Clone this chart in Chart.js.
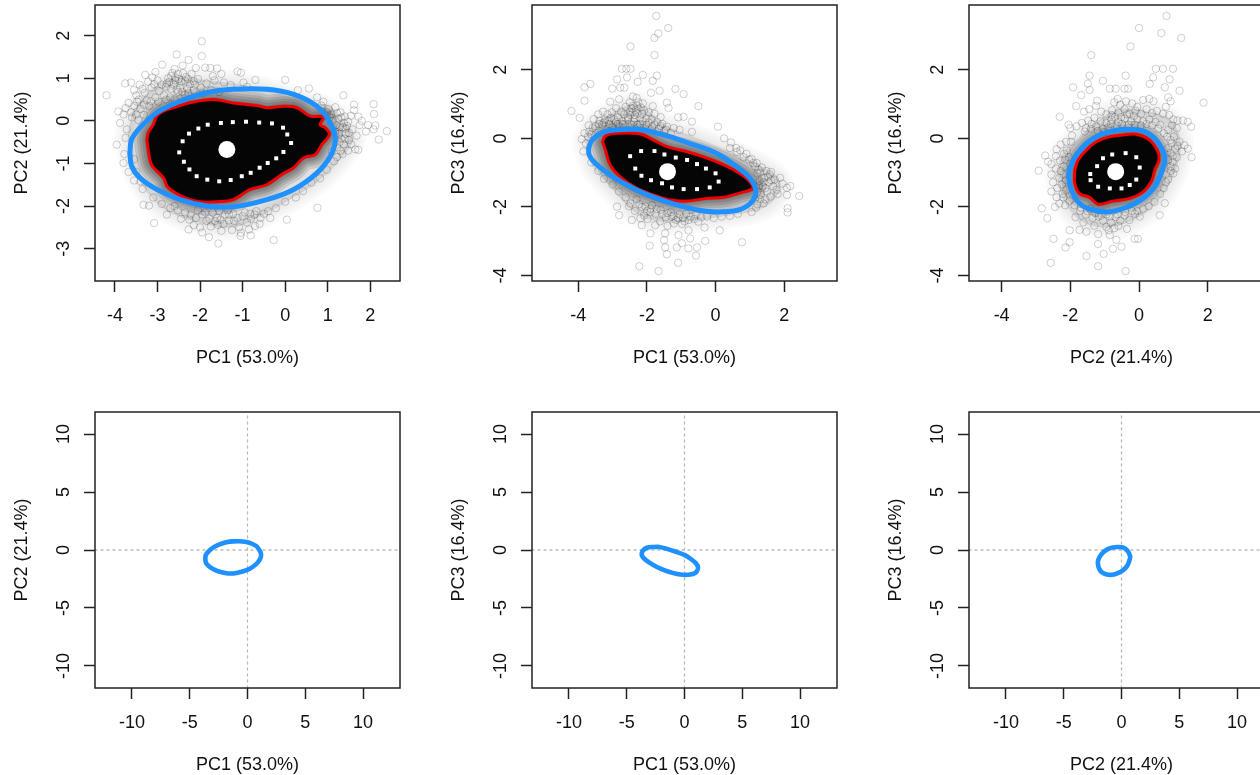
<!DOCTYPE html>
<html><head><meta charset="utf-8">
<script src="https://cdn.jsdelivr.net/npm/chart.js@4/dist/chart.umd.min.js"></script>
<style>html,body{margin:0;padding:0;background:#fff;overflow:hidden;width:1260px;height:775px}
#wrap{position:relative;width:1260px;height:775px;overflow:hidden}
canvas{position:absolute}</style></head><body><div id="wrap"></div>
<script>
// ---- axis labels
const labelPC1="PC1 (53.0%)", labelPC2="PC2 (21.4%)", labelPC3="PC3 (16.4%)";
// ---- tick labels
const ticksP1X=[-4,-3,-2,-1,0,1,2], ticksP1Y=[-3,-2,-1,0,1,2];
const ticksWide=[-4,-2,0,2];
const ticksLoad=[-10,-5,0,5,10];
// ---- axis limits
const limP1X=[-4.47,2.7], limP1Y=[-3.76,2.72], limP2X=[-5.35,3.54], limP2Y=[-4.16,3.89], limP3X=[-4.95,3.93], limLoad=[-13.2,13.2], limLoadY=[-11.9,11.9];
// ---- blue ellipses
const ellipse12=[[-3.65,-0.75],[-3.61,-0.44],[-3.41,-0.16],[-3.02,0.19],[-2.47,0.46],[-1.84,0.66],[-1.22,0.74],[-0.43,0.74],[0.2,0.62],[0.75,0.34],[1.06,-0.05],[1.18,-0.44],[1.06,-0.83],[0.75,-1.22],[0.2,-1.61],[-0.43,-1.85],[-1.22,-2.02],[-1.84,-2.0],[-2.47,-1.85],[-3.02,-1.61],[-3.41,-1.34],[-3.61,-1.06],[-3.65,-0.75]];
const ellipse13=[[-3.7,-0.29],[-3.6,-0.05],[-3.26,0.19],[-2.68,0.26],[-2.19,0.26],[-1.51,0.1],[-0.74,-0.15],[0.04,-0.44],[0.62,-0.83],[1.01,-1.17],[1.17,-1.51],[1.06,-1.85],[0.72,-2.07],[0.23,-2.14],[-0.35,-2.12],[-1.03,-1.97],[-1.71,-1.75],[-2.39,-1.46],[-3.07,-1.07],[-3.5,-0.73],[-3.68,-0.49],[-3.7,-0.29]];
const ellipse23=[[-2.05,-1.12],[-2.02,-0.88],[-1.83,-0.49],[-1.53,-0.15],[-1.15,0.1],[-0.76,0.22],[-0.37,0.26],[0.12,0.22],[0.5,-0.05],[0.75,-0.54],[0.68,-0.92],[0.46,-1.41],[0.12,-1.75],[-0.37,-2.01],[-0.85,-2.14],[-1.34,-2.09],[-1.73,-1.9],[-1.97,-1.51],[-2.05,-1.12]];
// ---- red outer contours
const red12=[[-3.25,-0.44],[-3.22,-0.28],[-3.1,-0.09],[-3.02,0.11],[-2.86,0.23],[-2.55,0.33],[-2.27,0.42],[-1.69,0.5],[-1.22,0.42],[-0.67,0.36],[-0.43,0.31],[-0.04,0.34],[0.27,0.31],[0.59,0.11],[0.9,0.09],[0.82,-0.09],[0.94,-0.16],[1.04,-0.32],[0.86,-0.56],[0.71,-0.79],[0.43,-0.87],[0.2,-1.1],[-0.08,-1.26],[-0.43,-1.5],[-0.82,-1.61],[-1.22,-1.85],[-1.61,-1.9],[-2.0,-1.9],[-2.35,-1.81],[-2.75,-1.57],[-2.86,-1.34],[-3.14,-1.03],[-3.22,-0.67],[-3.25,-0.44]];
const red13=[[-3.29,-0.1],[-3.21,0.07],[-2.87,0.15],[-2.19,0.13],[-1.81,-0.05],[-1.42,-0.24],[-0.83,-0.39],[-0.35,-0.54],[0.14,-0.73],[0.62,-0.97],[0.96,-1.22],[1.08,-1.46],[0.72,-1.59],[0.23,-1.72],[-0.25,-1.75],[-0.83,-1.83],[-1.32,-1.8],[-1.81,-1.65],[-2.29,-1.46],[-2.78,-1.12],[-3.07,-0.78],[-3.21,-0.34],[-3.29,-0.1]];
const red23=[[-1.87,-0.92],[-1.77,-0.63],[-1.53,-0.34],[-1.24,-0.1],[-0.85,0.05],[-0.47,0.1],[-0.08,0.12],[0.31,-0.05],[0.55,-0.39],[0.58,-0.63],[0.46,-0.92],[0.36,-1.26],[0.12,-1.56],[-0.27,-1.75],[-0.76,-1.83],[-1.19,-1.92],[-1.44,-1.72],[-1.73,-1.61],[-1.87,-1.31],[-1.87,-0.92]];
// ---- white dotted inner contours
const white12=[[-2.49,-0.74],[-2.38,-0.96],[-2.25,-1.14],[-2.08,-1.3],[-1.83,-1.38],[-1.55,-1.42],[-1.28,-1.39],[-1.02,-1.3],[-0.81,-1.22],[-0.6,-1.1],[-0.41,-0.99],[-0.21,-0.88],[-0.04,-0.73],[0.14,-0.52],[0.05,-0.32],[-0.05,-0.16],[-0.31,-0.06],[-0.61,-0.04],[-0.92,-0.02],[-1.23,-0.03],[-1.51,-0.05],[-1.82,-0.09],[-2.04,-0.18],[-2.26,-0.3],[-2.41,-0.48]];
const white13=[[-2.49,-0.52],[-2.34,-0.88],[-2.16,-1.09],[-1.88,-1.22],[-1.56,-1.31],[-1.27,-1.43],[-0.93,-1.48],[-0.54,-1.48],[-0.17,-1.43],[0.09,-1.26],[0,-1.02],[-0.28,-0.88],[-0.54,-0.75],[-0.83,-0.63],[-1.16,-0.56],[-1.49,-0.47],[-1.78,-0.37],[-2.17,-0.37]];
const white23=[[-1.42,-1.04],[-1.22,-0.81],[-1.05,-0.58],[-0.78,-0.47],[-0.39,-0.43],[-0.08,-0.55],[0.02,-0.85],[-0.08,-1.2],[-0.27,-1.36],[-0.51,-1.46],[-0.85,-1.46],[-1.19,-1.41],[-1.41,-1.22]];
// ---- centres
const centre12=[[-1.37,-0.67]], centre13=[[-1.4,-0.97]], centre23=[[-0.68,-0.97]];
// ---- density envelopes around the clouds
const halo12=[[-3.6,0.2],[-3.2,0.7],[-2.6,1.0],[-1.8,0.95],[-1,0.85],[0,0.6],[0.8,0.35],[1.3,0.05],[1.6,-0.4],[1.3,-0.9],[0.8,-1.4],[0.2,-1.8],[-0.5,-2.2],[-1.2,-2.5],[-2,-2.4],[-2.8,-2.1],[-3.3,-1.6],[-3.6,-1],[-3.7,-0.4],[-3.6,0.2]];
const halo13=[[-3.8,-0.1],[-3.6,0.35],[-3.0,0.75],[-2.4,1.0],[-2.0,0.85],[-1.6,0.45],[-0.9,0.15],[0,-0.2],[0.8,-0.55],[1.5,-0.9],[1.9,-1.3],[1.7,-1.8],[1.2,-2.1],[0.4,-2.25],[-0.6,-2.4],[-1.5,-2.45],[-2.3,-2.2],[-3,-1.5],[-3.6,-0.8],[-3.8,-0.1]];
const halo23=[[-2.4,-1],[-2.2,-0.4],[-1.8,0],[-1.3,0.45],[-0.6,0.85],[0.2,0.8],[0.9,0.55],[1.2,0],[1.15,-0.7],[0.85,-1.4],[0.4,-2],[-0.3,-2.45],[-1,-2.6],[-1.7,-2.4],[-2.2,-1.8],[-2.4,-1]];
// ---- observations PC1 / PC2
const cloud12=[[-1.96,1.87],[-2.55,1.56],[-1.96,1.52],[-2.27,1.43],[-2.89,1.32],[-3.29,1.08],[-3.76,0.88],[-3.62,0.9],[-4.2,0.6],[-1.12,1.16],[-1.04,1.13],[0,0.96],[-0.7,0.96],[0.56,0.76],[1.37,0.6],[2.08,0.39],[2.09,0.16],[2.39,-0.24],[2.2,-0.44],[2.12,-0.11],[2.08,-0.2],[1.65,-0.67],[1.72,-0.68],[-3.96,-0.56],[-3.8,-0.99],[-3.78,-0.78],[0.76,-2.04],[0.04,-2.32],[-0.27,-2.8],[-1.57,-2.88],[-1.79,-2.73],[-0.81,-2.69],[-1.04,-2.63],[-0.71,-2.47],[-2.27,-2.55],[-3.08,-2.4],[-3.33,-1.97],[-3.2,-1.99],
[-2.41,1.3],[-2.6,1.22],[-2.1,1.24],[-1.88,1.25],[-1.76,1.24],[-1.6,1.23],[-1.5,1.1],[-2.68,1.05],[-2.52,1.1],[-2.33,1.03],[-2.72,0.92],[-3.12,1.02],[-3.0,0.95],[-3.42,0.85],[-3.55,0.72],[-3.3,0.66],[-3.14,0.78],[-2.96,0.7],[-2.8,0.8],[-2.62,0.85],[-2.44,0.92],[-2.24,0.86],[-2.05,0.98],[-1.85,0.88],[-1.66,0.95],[-1.44,0.9],[-1.28,0.84],[-0.98,0.9],[-0.9,0.8],[-3.75,0.3],[-3.8,0.15],[-3.68,0.42],[-3.55,0.35],[-3.62,0.2],[-3.44,0.5],[-3.25,0.48],[-3.05,0.55],[-2.85,0.6],[-2.7,0.55],[-2.52,0.68],[-2.35,0.62],[-2.15,0.72],[-1.95,0.65],[-1.74,0.72],[-1.55,0.68],[-3.88,-0.05],[-3.72,-0.2],[-3.75,-0.4],[-3.92,0.22],[-3.4,0.28],[-3.2,0.35],
[-2.75,1.0],[-2.47,0.78],[-2.9,0.85],[-3.35,0.75],[-2.2,1.1],[-1.7,1.05],[-3.5,0.6],[-3.05,1.15],[-2.3,0.75],[-2.58,0.95],[-1.98,0.78],
[0.3,0.72],[0.75,0.55],[0.9,0.45],[0.85,0.36],[1.02,0.28],[1.18,0.32],[1.3,0.2],[1.4,0.1],[1.25,0.05],[1.48,-0.02],[1.55,0.12],[1.62,0.25],[1.72,0.1],[1.8,0.0],[1.35,-0.15],[1.42,-0.3],[1.58,-0.2],[1.68,-0.35],[1.5,-0.45],[1.38,-0.55],[1.3,-0.7],[1.22,-0.85],[1.15,-0.95],[1.48,-0.7],[1.9,-0.25],[1.95,-0.1],[1.62,0.38],[1.75,-0.1],[1.2,-0.1],[1.27,-0.3],[1.08,0.15],[1.45,-0.12],[1.55,-0.55],[1.32,-0.42],[1.12,0.0],
[-3.68,-1.2],[-3.55,-1.4],[-3.35,-1.6],[-3.1,-1.8],[-2.9,-1.95],[-2.7,-2.05],[-2.52,-2.1],[-2.35,-2.15],[-2.1,-2.28],[-2.25,-2.32],[-1.95,-2.2],[-1.85,-2.35],[-1.75,-2.48],[-1.6,-2.28],[-1.45,-2.42],[-1.32,-2.2],[-1.2,-2.35],[-1.08,-2.5],[-1.0,-2.24],[-0.9,-2.38],[-0.72,-2.2],[-0.58,-2.28],[-0.4,-2.12],[-0.22,-2.05],[0.0,-1.9],[0.25,-1.8],[0.42,-1.65],[0.62,-1.45],[0.82,-1.35],[0.98,-1.15],[-2.0,-2.5],[-1.95,-2.62],[-1.25,-2.56],[-2.45,-2.3],[-2.78,-2.2],[-1.5,-2.58],[-1.35,-2.1],[-1.7,-2.15],[-2.15,-2.45],[-1.05,-2.7],[-0.85,-2.55],[-2.6,-2.0],[-0.6,-2.42],[-0.35,-2.28]];
const dense12=[[-2.65,1.12],[-2.58,1.02],[-2.5,0.98],[-2.4,1.12],[-2.35,0.94],[-2.28,0.98],[-2.15,0.93],[-2.78,0.88],[-2.68,0.75],[-2.55,0.74],[-2.42,0.68],[-2.28,0.66],[-2.12,0.85],[-3.22,0.92],[-3.08,0.86],[-3.48,0.45],[-3.32,0.38],[-3.15,0.46],[-2.98,0.45],[-2.8,0.5],[-2.6,0.5],[-3.6,0.08],[-3.5,0.15],[-3.45,0.02],[-3.32,0.14],[1.22,0.18],[1.32,0.08],[1.38,-0.05],[1.28,-0.15],[1.18,-0.25],[1.42,-0.18],[1.5,-0.28],[1.28,-0.5],[1.22,-0.62],[1.4,-0.42],[1.35,-0.78],[1.1,-0.72],[1.05,0.08],[0.98,0.2],[-3.5,-1.2],[-3.4,-1.42],[-3.55,-0.9],[-1.55,-2.12],[-1.42,-2.2],[-1.22,-2.18],[-1.12,-2.28],[-0.95,-2.15],[-0.8,-2.3],[-1.65,-2.35],[-1.88,-2.15],[-2.05,-2.1],[-2.22,-2.2],[-1.52,-2.32],[-1.32,-2.34],[-1.58,-2.44],[-1.78,-2.3],[-0.68,-2.12],[-0.5,-2.18],[-0.82,-2.18]];
// ---- observations PC1 / PC3
const cloud13=[[-1.73,3.57],[-1.38,3.22],[-1.67,3.06],[-1.78,2.93],[-2.48,2.68],[-1.78,2.43],[-2.73,2.03],[-2.6,2.03],[-2.48,2.03],[-2.12,1.85],[-1.71,1.83],[-2.58,1.78],[-2.87,1.72],[-1.83,1.68],[-2.27,1.65],[-3.65,1.59],[-3.82,1.49],[-3.01,1.45],[-2.78,1.48],[-2.66,1.48],[-1.63,1.39],[-1.88,1.33],[-1.17,1.44],[-0.93,1.29],[-3.82,1.1],[-4.2,0.8],[-3.96,0.6],[-0.5,0.94],[-1.42,1.04],[-1.37,0.89],[-1.83,0.94],[0.07,0.34],[-1.09,0.61],[-0.93,0.63],[-0.69,0.49],[-0.69,0.19],[-3.07,1.07],[-2.81,1.14],[-2.41,1.22],[-2.12,1.02],[2.44,-1.68],[2.18,-1.39],[2.08,-1.44],[2.08,-1.65],[1.81,-1.62],[2.1,-2.04],[2.1,-2.16],[1.4,-1.9],[0.12,-2.68],[0.77,-3.03],[-0.3,-2.99],[-0.32,-2.6],[-0.5,-2.43],[-0.79,-2.68],[-0.74,-2.92],[-0.54,-3.18],[-0.79,-3.21],[-0.57,-3.42],[-1.13,-3.18],[-0.98,-3.06],[-1.08,-2.82],[-1.47,-2.77],[-1.5,-2.97],[-1.47,-3.18],[-1.42,-3.38],[-1.92,-3.13],[-1.9,-2.77],[-2.22,-3.73],[-1.66,-3.87],[-1.09,-3.63],[-2.87,-1.99],[-2.81,-2.24],[-2.44,-2.38],[-2.19,-2.33],[-2.15,-2.53],[-1.76,-2.53],
[-2.3,1.18],[-2.25,1.05],[-2.5,1.05],[-2.62,0.92],[-2.4,0.95],[-2.32,0.82],[-2.18,0.9],[-2.08,0.82],[-1.95,0.76],[-2.75,0.78],[-2.9,0.88],[-3.02,0.76],[-3.15,0.7],[-3.28,0.78],[-3.42,0.7],[-3.55,0.56],[-3.38,0.52],[-3.22,0.55],[-3.05,0.6],[-2.85,0.62],[-2.66,0.7],[-2.5,0.78],[-2.35,0.68],[-2.2,0.6],[-2.02,0.58],[-1.86,0.56],[-1.7,0.48],[-1.55,0.42],[-1.42,0.34],[-1.22,0.3],[-1.05,0.25],[-3.7,0.38],[-3.82,0.15],[-3.9,-0.02],[-3.78,-0.15],[-3.85,-0.38],[-3.68,0.2],[-3.5,0.35],[-3.3,0.4],[-3.1,0.42],[-2.9,0.48],[-2.72,0.5],[-2.55,0.55],[-2.38,0.48],[-2.2,0.42],[-2.02,0.4],[-1.85,0.34],[-1.65,0.28],[-1.5,0.22],[-1.3,0.16],[-3.62,-0.7],[-3.42,-0.95],[-3.25,-1.18],[-2.45,0.88],[-2.28,0.95],[-2.55,0.62],[-1.6,0.62],[-1.78,0.72],[-3.0,0.32],[-2.8,0.36],
[0.25,0.0],[0.45,-0.12],[0.6,-0.28],[0.72,-0.35],[0.9,-0.45],[1.05,-0.6],[1.2,-0.72],[1.35,-0.85],[1.48,-0.95],[1.58,-1.05],[1.72,-1.2],[1.88,-1.15],[1.95,-1.32],[1.3,-1.0],[1.42,-1.15],[1.55,-1.28],[1.68,-1.4],[1.38,-1.4],[1.5,-1.55],[1.6,-1.7],[1.32,-1.65],[1.28,-1.25],[1.22,-1.92],[1.45,-1.78],[1.25,-0.92],[1.15,-0.82],[1.62,-0.98],[1.78,-1.5],[1.18,-2.02],[1.05,-2.15],
[-3.0,-1.35],[-2.82,-1.55],[-2.62,-1.72],[-2.48,-1.9],[-2.3,-1.78],[-2.15,-2.0],[-2.0,-2.12],[-1.85,-1.95],[-1.75,-2.2],[-1.6,-2.08],[-1.45,-2.3],[-1.3,-2.15],[-1.15,-2.38],[-1.05,-2.22],[-0.9,-2.42],[-0.72,-2.28],[-0.58,-2.22],[-0.42,-2.3],[-0.25,-2.28],[-0.05,-2.32],[0.18,-2.28],[0.42,-2.26],[0.65,-2.2],[-2.35,-2.12],[-2.52,-1.98],[-1.98,-2.35],[-1.62,-2.42],[-1.22,-2.48],[-0.98,-2.5],[-1.4,-2.55],[-2.08,-2.25],[-1.9,-2.15],[-0.85,-2.2]];
const dense13=[[-2.42,0.75],[-2.36,0.58],[-2.28,0.72],[-2.14,0.72],[-2.5,0.68],[-2.62,0.58],[-2.7,0.42],[-2.85,0.42],[-2.96,0.55],[-3.12,0.52],[-3.25,0.46],[-2.45,0.4],[-2.28,0.4],[-2.12,0.5],[-1.95,0.46],[-1.78,0.4],[-1.6,0.36],[-1.45,0.26],[-3.4,0.42],[-3.58,0.3],[-3.72,0.05],[-3.62,0.12],[-1.22,-2.25],[-1.4,-2.18],[-1.55,-2.2],[-1.72,-2.06],[-1.9,-2.05],[-2.05,-1.98],[-2.22,-1.92],[-0.78,-2.38],[-0.62,-2.35],[-0.95,-2.32],[-1.1,-2.32],[-1.28,-2.28],[1.22,-1.02],[1.35,-1.15],[1.28,-1.38],[1.4,-1.28],[1.45,-1.45],[1.22,-1.55],[1.3,-1.78],[1.52,-1.12],[1.62,-1.22],[1.15,-1.78],[1.1,-0.72],[0.98,-0.62],[0.82,-0.55],[0.62,-0.4],[0.42,-0.28]];
// ---- observations PC2 / PC3
const cloud23=[[0.8,3.57],[0,3.22],[0.65,3.07],[1.23,2.93],[-0.25,2.68],[-1.39,2.43],[0.49,2.03],[0.7,2.03],[0.99,2.03],[-1.44,1.83],[-0.39,1.83],[0.41,1.78],[0.89,1.72],[-1.05,1.68],[-1.49,1.6],[0.31,1.59],[-1.92,1.49],[-1.44,1.41],[-0.85,1.45],[-0.68,1.45],[-0.42,1.45],[-0.32,1.45],[0.75,1.49],[1.18,1.39],[1.88,1.04],[-1.68,1.26],[-1.83,0.94],[-2.31,0.63],[1.52,0.34],[1.53,-0.55],[-2.92,-0.94],[-2.73,-0.5],[-2.65,-0.68],[-2.83,-2.04],[-2.67,-2.33],[-2.49,-2.93],[-2.57,-3.63],[-2.02,-3.03],[-2.14,-3.18],[-2.02,-2.68],[-1.53,-3.43],[-1.19,-3.73],[-0.39,-3.87],[-1.03,-3.37],[-1.19,-3.08],[-0.76,-3.22],[-0.51,-3.16],[-0.66,-2.96],[-0.13,-2.93],[-0.03,-2.93],[-0.35,-2.64],[0.6,-2.24],[0.75,-1.89],[-0.85,-2.82],[-1.19,-2.79],[-1.53,-2.72],[-1.73,-2.67],
[-0.62,1.15],[-0.72,1.05],[-0.55,0.98],[-0.38,1.08],[-0.2,1.02],[0.12,1.12],[0.3,1.15],[0.42,1.08],[0.85,1.2],[0.92,1.08],[0.78,0.92],[-0.05,0.92],[-1.22,1.1],[-1.25,0.95],[-1.45,0.85],[-1.6,0.78],[-1.1,0.78],[-0.95,0.7],[-0.78,0.82],[-0.6,0.75],[-0.42,0.85],[-0.28,0.72],[-0.1,0.8],[0.06,0.72],[0.22,0.85],[0.38,0.74],[0.52,0.8],[0.7,0.72],[0.88,0.68],[1.0,0.55],[1.12,0.52],[1.28,0.52],[1.42,0.48],[0.96,0.38],[1.1,0.3],[0.85,0.25],[-2.05,0.4],[-2.0,0.3],[-1.82,0.35],[-1.66,0.45],[-1.48,0.52],[-1.3,0.6],[-1.12,0.5],[-0.95,0.45],[-0.8,0.55],[-0.6,0.48],[-0.42,0.58],[-0.22,0.5],[-0.05,0.55],[0.12,0.5],[0.3,0.55],[0.48,0.48],[0.62,0.4],[0.72,0.15],[-1.58,0.2],[-1.4,0.28],[-1.25,0.35],[-1.05,0.28],[-0.9,0.32],
[1.02,0.05],[1.18,-0.1],[1.32,-0.2],[1.42,-0.3],[1.25,-0.38],[1.05,-0.3],[0.95,-0.15],[0.92,-0.42],[1.1,-0.55],[0.98,-0.68],[1.05,-0.88],[0.92,-0.82],[1.0,-1.02],[0.85,-1.2],[0.78,-1.05],[0.72,-1.45],[0.62,-1.62],
[-2.4,-0.32],[-2.28,-0.18],[-2.12,-0.1],[-1.95,0.08],[-2.55,-0.75],[-2.42,-0.52],[-2.3,-0.65],[-2.18,-0.45],[-2.55,-1.05],[-2.42,-0.88],[-2.32,-1.15],[-2.18,-0.82],[-2.5,-1.28],[-2.55,-1.55],[-2.38,-1.45],[-2.25,-1.35],[-2.4,-1.72],[-2.22,-1.62],[-2.12,-1.5],[-2.45,-2.0],[-2.32,-1.9],[-2.15,-1.95],[-2.02,-1.82],[-1.98,-0.1],
[-1.72,-2.12],[-1.55,-2.22],[-1.42,-2.05],[-1.35,-2.32],[-1.18,-2.28],[-1.05,-2.4],[-0.95,-2.22],[-0.82,-2.45],[-0.68,-2.3],[-0.55,-2.4],[-0.42,-2.25],[-0.28,-2.38],[-0.12,-2.2],[0.02,-2.28],[0.12,-2.05],[0.28,-1.98],[0.45,-1.85],[-1.85,-2.3],[-1.62,-2.45],[-1.3,-2.55],[-0.95,-2.58],[-0.72,-2.62],[-0.6,-2.55],[-0.88,-2.68]];
const dense23=[[-0.7,0.62],[-0.52,0.62],[-0.35,0.7],[-0.15,0.65],[-0.82,0.42],[-0.65,0.38],[-0.5,0.42],[-0.3,0.4],[-0.12,0.4],[0.05,0.38],[0.22,0.42],[0.38,0.38],[0.56,0.28],[-1.2,0.22],[-1.02,0.18],[-0.8,0.68],[-1.38,0.42],[-1.55,0.3],[0.82,0.05],[0.92,-0.05],[0.85,-0.28],[0.98,-0.52],[0.85,-0.62],[0.92,-0.95],[0.78,-1.28],[1.12,-0.22],[-2.2,-1.05],[-2.12,-1.22],[-2.28,-0.95],[-2.15,-0.62],[-2.05,-0.55],[-2.1,-0.35],[-2.2,-1.72],[-1.88,-1.95],[-1.7,-2.02],[-1.5,-2.12],[-1.28,-2.18],[-1.1,-2.25],[-0.85,-2.28],[-0.62,-2.22],[-0.4,-2.15],[-0.2,-2.12],[-0.05,-2.12]];
// ---- reference lines of the loading panels
const zeroH=[[-13.2,0],[13.2,0]], zeroV=[[0,-11.9],[0,11.9]];

const FONT={family:'"Liberation Sans",Arial,sans-serif',size:18};
const BLUE='#1E90FF', RED='#F00000';
const pts=a=>a.map(([x,y])=>({x,y}));
const closed=(a,o)=>Object.assign({data:pts(a),showLine:true,pointRadius:0,tension:0.35,borderCapStyle:'round',borderJoinStyle:'round'},o);

const boxPlugin={id:'box',afterDraw(c){const a=c.chartArea,x=c.ctx;x.save();x.strokeStyle='#222';x.lineWidth=1.5;x.strokeRect(a.left,a.top,a.right-a.left,a.bottom-a.top);x.restore();}};

function axis(lim,ticks,title,isY,pad){
  return {type:'linear',min:lim[0],max:lim[1],
    afterBuildTicks(s){s.ticks=ticks.map(v=>({value:v}));},
    afterFit(s){ if(isY){s.width=95;s.paddingTop=0;s.paddingBottom=0;} else {s.height=90;s.paddingLeft=0;s.paddingRight=0;} },
    border:{display:false},
    grid:{drawOnChartArea:false,drawTicks:true,tickLength:11,tickColor:'#222',tickWidth:1.5},
    ticks:Object.assign({autoSkip:false,color:'#111',font:FONT,padding:pad,callback:v=>String(v)},
      isY?{minRotation:90,maxRotation:90,crossAlign:'center'}:{maxRotation:0,minRotation:0}),
    title:{display:true,text:title,color:'#111',font:FONT,padding:isY?{top:11,bottom:0}:{top:0,bottom:2}}
  };
}
function panel(left,top,xs,ys,datasets){
  const c=document.createElement('canvas');
  c.width=420;c.height=371;c.style.left=left+'px';c.style.top=top+'px';c.style.width='420px';c.style.height='371px';
  document.getElementById('wrap').appendChild(c);
  new Chart(c,{type:'scatter',data:{datasets},plugins:[boxPlugin],options:{
    responsive:false,animation:false,devicePixelRatio:1,
    layout:{autoPadding:false,padding:{top:5,right:20,left:0,bottom:0}},
    plugins:{legend:{display:false},tooltip:{enabled:false}},
    scales:{x:xs,y:ys}}});
}
const strokeWidths=[5,10,15,20,26];
function scoreSets(cloud,dense,halo,red,ell,white,centre){
  return [
    {data:pts(centre),pointRadius:8.5,pointBackgroundColor:'#fff',pointBorderColor:'#fff',pointBorderWidth:0},
    closed(ell,{borderColor:BLUE,borderWidth:5}),
    closed(red,{borderColor:RED,borderWidth:3}),
    {data:pts(white),pointStyle:'rect',pointRadius:2.8,pointBackgroundColor:'#fff',pointBorderColor:'#fff',pointBorderWidth:0},
    closed(red,{borderColor:'rgba(0,0,0,0)',borderWidth:0,fill:'shape',backgroundColor:'#050505'}),
    ...strokeWidths.map(w=>closed(red,{borderColor:'rgba(0,0,0,0.13)',borderWidth:w})),
    ...strokeWidths.map(w=>closed(halo,{borderColor:'rgba(0,0,0,0.018)',borderWidth:w})),
    closed(halo,{borderColor:'rgba(0,0,0,0)',borderWidth:0,fill:'shape',backgroundColor:'rgba(0,0,0,0.1)'}),
    {data:pts(cloud.concat(dense)),pointRadius:3.7,pointBackgroundColor:'rgba(0,0,0,0)',pointBorderColor:'rgba(0,0,0,0.19)',pointBorderWidth:1}
  ];
}
function loadSets(ell){
  return [
    closed(ell,{borderColor:BLUE,borderWidth:4.6}),
    closed(zeroH,{borderColor:'#bbb',borderWidth:1.3,borderDash:[2,4],tension:0}),
    closed(zeroV,{borderColor:'#bbb',borderWidth:1.3,borderDash:[2,4],tension:0})
  ];
}
const padNarrow=11.5,padLoad=6.5,padX=13;
panel(0,0,axis(limP1X,ticksP1X,labelPC1,false,padX),axis(limP1Y,ticksP1Y,labelPC2,true,padNarrow),scoreSets(cloud12,dense12,halo12,red12,ellipse12,white12,centre12));
panel(437,0,axis(limP2X,ticksWide,labelPC1,false,padX),axis(limP2Y,ticksWide,labelPC3,true,padNarrow),scoreSets(cloud13,dense13,halo13,red13,ellipse13,white13,centre13));
panel(874,0,axis(limP3X,ticksWide,labelPC2,false,padX),axis(limP2Y,ticksWide,labelPC3,true,padNarrow),scoreSets(cloud23,dense23,halo23,red23,ellipse23,white23,centre23));
panel(0,407,axis(limLoad,ticksLoad,labelPC1,false,padX),axis(limLoadY,ticksLoad,labelPC2,true,padLoad),loadSets(ellipse12));
panel(437,407,axis(limLoad,ticksLoad,labelPC1,false,padX),axis(limLoadY,ticksLoad,labelPC3,true,padLoad),loadSets(ellipse13));
panel(874,407,axis(limLoad,ticksLoad,labelPC2,false,padX),axis(limLoadY,ticksLoad,labelPC3,true,padLoad),loadSets(ellipse23));
</script></body></html>
